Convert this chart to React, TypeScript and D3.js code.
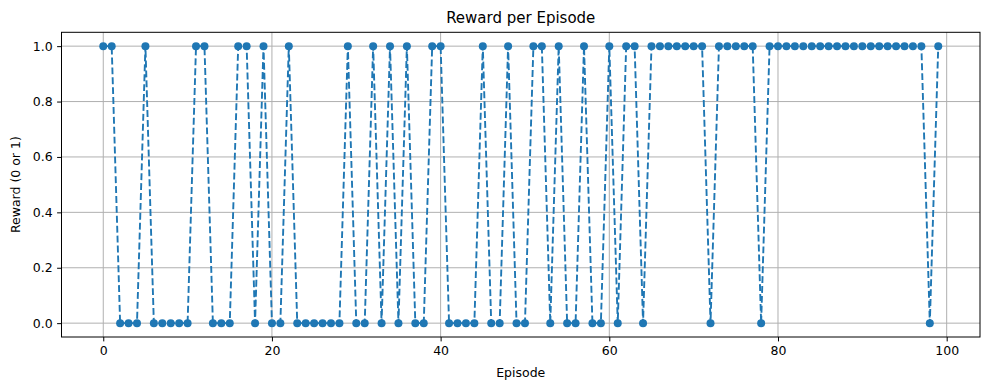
import React, { useEffect, useRef } from "react";
import * as d3 from "d3";

// reward for each episode, 0..99
const rewards = [
  1, 1, 0, 0, 0, 1, 0, 0, 0, 0,
  0, 1, 1, 0, 0, 0, 1, 1, 0, 1,
  0, 0, 1, 0, 0, 0, 0, 0, 0, 1,
  0, 0, 1, 0, 1, 0, 1, 0, 0, 1,
  1, 0, 0, 0, 0, 1, 0, 0, 1, 0,
  0, 1, 1, 0, 1, 0, 0, 1, 0, 0,
  1, 0, 1, 1, 0, 1, 1, 1, 1, 1,
  1, 1, 0, 1, 1, 1, 1, 1, 0, 1,
  1, 1, 1, 1, 1, 1, 1, 1, 1, 1,
  1, 1, 1, 1, 1, 1, 1, 1, 0, 1,
];
const xTicks = [0, 20, 40, 60, 80, 100];
const yTicks = [0, 0.2, 0.4, 0.6, 0.8, 1.0];

const W = 989;
const H = 390;
const FONT = "DejaVu Sans, sans-serif";
const BLUE = "#1f77b4";

const App = () => {
  const svgRef = useRef<SVGSVGElement>(null);

  useEffect(() => {
    const svg = d3.select(svgRef.current);
    svg.selectAll("*").remove();

    const left = 61.5, right = 980, top = 32.3, bottom = 337;
    const x = d3.scaleLinear().domain([-4.95, 103.95]).range([left, right]);
    const y = d3.scaleLinear().domain([-0.05, 1.05]).range([bottom, top]);

    svg.append("rect").attr("width", W).attr("height", H).attr("fill", "#fff");

    // grid
    const grid = svg.append("g").attr("stroke", "#b0b0b0").attr("stroke-width", 1);
    xTicks.forEach(t => {
      grid.append("line").attr("x1", x(t)).attr("x2", x(t)).attr("y1", top).attr("y2", bottom);
    });
    yTicks.forEach(t => {
      grid.append("line").attr("x1", left).attr("x2", right).attr("y1", y(t)).attr("y2", y(t));
    });

    // data line + markers
    const data = rewards.map((r, i) => ({ i, r }));
    const line = d3.line<{ i: number; r: number }>().x(d => x(d.i)).y(d => y(d.r));
    svg.append("path")
      .attr("d", line(data))
      .attr("fill", "none")
      .attr("stroke", BLUE)
      .attr("stroke-width", 1.9)
      .attr("stroke-dasharray", "6.9,3");
    svg.append("g").selectAll("circle").data(data).join("circle")
      .attr("cx", d => x(d.i))
      .attr("cy", d => y(d.r))
      .attr("r", 4)
      .attr("fill", BLUE);

    // axes
    const xAxis = d3.axisBottom(x).tickValues(xTicks).tickSize(4.4).tickPadding(4.4).tickFormat(d3.format("d"));
    const yAxis = d3.axisLeft(y).tickValues(yTicks).tickSize(4.4).tickPadding(4.4).tickFormat(d3.format(".1f"));
    const gx = svg.append("g").attr("transform", `translate(0,${bottom})`).call(xAxis);
    const gy = svg.append("g").attr("transform", `translate(${left},0)`).call(yAxis);
    [gx, gy].forEach(g => {
      g.select(".domain").remove();
      g.selectAll("line").attr("stroke", "#000").attr("stroke-width", 1);
      g.selectAll("text").attr("font-family", FONT).attr("font-size", 12.5).attr("fill", "#000");
    });

    // frame
    svg.append("rect")
      .attr("x", left).attr("y", top)
      .attr("width", right - left).attr("height", bottom - top)
      .attr("fill", "none").attr("stroke", "#000").attr("stroke-width", 1);

    // labels
    svg.append("text")
      .attr("x", (left + right) / 2).attr("y", 22.5)
      .attr("text-anchor", "middle")
      .attr("font-family", FONT).attr("font-size", 15)
      .text("Reward per Episode");
    svg.append("text")
      .attr("x", (left + right) / 2).attr("y", 377)
      .attr("text-anchor", "middle")
      .attr("font-family", FONT).attr("font-size", 12.5)
      .text("Episode");
    svg.append("text")
      .attr("transform", `translate(20,${(top + bottom) / 2}) rotate(-90)`)
      .attr("text-anchor", "middle")
      .attr("font-family", FONT).attr("font-size", 12.5)
      .text("Reward (0 or 1)");
  }, []);

  return (
    <div style={{ position: "absolute", left: 0, top: 0 }}>
      <svg ref={svgRef} width={W} height={H}></svg>
    </div>
  );
};

export default App;
